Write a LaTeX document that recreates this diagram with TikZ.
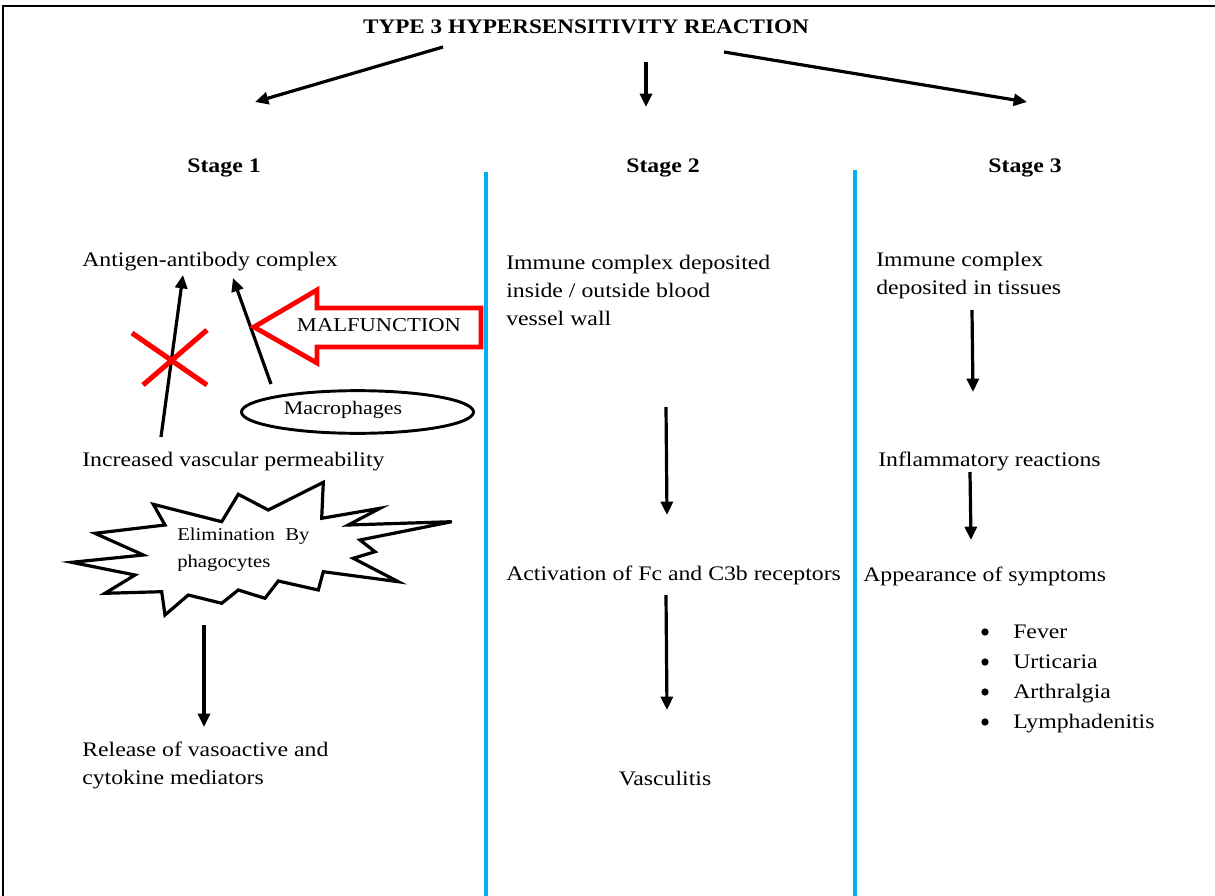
\documentclass[tikz,border=0pt]{standalone}
\usepackage{fontspec}
\setmainfont{Liberation Serif}[FakeStretch=1.15]
\newfontfamily\titlefont{Liberation Serif}[FakeStretch=1.12]
\usetikzlibrary{arrows.meta,shapes.geometric}
\definecolor{sky}{RGB}{0,176,240}
\definecolor{mred}{RGB}{255,0,0}
\begin{document}
\begin{tikzpicture}[x=0.75pt,y=-0.75pt,
  txt/.style={anchor=west,inner sep=0pt,align=left,font=\fontsize{15.5}{21}\selectfont},
  btxt/.style={anchor=base west,inner sep=0pt,font=\fontsize{15.5}{21}\selectfont},
  ctxt/.style={inner sep=0pt,align=center,font=\fontsize{15.5}{21}\selectfont},
  stagelbl/.style={inner sep=0pt,font=\fontsize{15.5}{21}\selectfont\bfseries},
  arr/.style={line width=2.4pt,-{Triangle[length=10pt,width=9pt]}},
  divider/.style={sky,line width=2.6pt},
  redx/.style={mred,line width=3.8pt},
  outline/.style={line width=2.4pt,line join=miter},
  bulletdot/.style={circle,fill=black,inner sep=0pt,minimum size=5.5pt}
]
\useasboundingbox (0,0) rectangle (1215,896);
% frame
\draw[line width=1.5pt] (3,896) -- (3,6) -- (1215,6);

% title
\node[inner sep=0pt,font=\titlefont\fontsize{15.5}{17}\selectfont\bfseries] (title) at (586,27) {TYPE 3 HYPERSENSITIVITY REACTION};
\coordinate (tL0) at (443,47); \coordinate (tL1) at (255,102);
\coordinate (tM0) at (646,62); \coordinate (tM1) at (646,107);
\coordinate (tR0) at (724,52); \coordinate (tR1) at (1027,102);
\draw[arr] (tL0) -- (tL1);
\draw[arr] (tM0) -- (tM1);
\draw[arr] (tR0) -- (tR1);

% stage labels
\node[stagelbl] (st1) at (224,168) {Stage 1};
\node[stagelbl] (st2) at (663,168) {Stage 2};
\node[stagelbl] (st3) at (1025,168) {Stage 3};

% dividers
\coordinate (d1t) at (486,172); \coordinate (d1b) at (486,896);
\coordinate (d2t) at (855,170); \coordinate (d2b) at (855,896);
\draw[divider] (d1t) -- (d1b);
\draw[divider] (d2t) -- (d2b);

% ---------- Stage 1 ----------
\node[txt] (ag) at (82,262) {Antigen-antibody complex};
\node[txt] (ivp) at (82,462) {Increased vascular permeability};

\coordinate (a1s) at (161,437); \coordinate (a1e) at (183,275);
\draw[arr] (a1s) -- (a1e);
\coordinate (x1a) at (132,333); \coordinate (x1b) at (207,385);
\coordinate (x2a) at (207,330); \coordinate (x2b) at (143,385);
\draw[redx] (x1a) -- (x1b);
\draw[redx] (x2a) -- (x2b);

% macrophages
\node[draw,ellipse,line width=2.2pt,minimum width=174pt,minimum height=32pt,inner sep=0pt] (macro) at (357.5,412) {};
\node[inner sep=0pt,font=\fontsize{14.3}{16}\selectfont] (macrotxt) at (343,410) {Macrophages};
\coordinate (a2s) at (271,384); \coordinate (a2e) at (233,278);
\draw[arr] (a2s) -- (a2e);

% malfunction block arrow
\draw[mred,line width=3.6pt,line join=miter,fill=white]
  (254,327) -- (317,290) -- (317,308) -- (481,308) -- (481,347) -- (317,347) -- (317,363) -- cycle;
\node[inner sep=0pt,font=\fontsize{14.7}{16}\selectfont] (malf) at (379,325) {MALFUNCTION};

% starburst
\draw[outline,fill=white]
  (71.7,562.3) -- (143.3,555) -- (95,533.3) -- (165,525) -- (153.3,504.3) -- (221.7,521.7)
  -- (238.3,494.3) -- (268.3,510) -- (323.3,482.3) -- (321.7,518.3) -- (380,508.3)
  -- (348.3,525) -- (451.7,521.7) -- (360,540) -- (375,551.7) -- (353.3,558.3)
  -- (398.3,581.7) -- (323.3,571.7) -- (318.3,590) -- (278.3,581) -- (265,598.3)
  -- (238.3,590) -- (221.7,603.3) -- (188.3,595) -- (165,615) -- (161.7,591.7)
  -- (105,593.3) -- (135,575) -- cycle;
\node[anchor=west,inner sep=0pt,align=left,font=\fontsize{13.5}{20}\selectfont] (elim) at (177,550) {Elimination\ \ By\\phagocytes};

\coordinate (a3s) at (204,625); \coordinate (a3e) at (204,727);
\draw[arr] (a3s) -- (a3e);
\node[txt] (rel) at (82,765) {Release of vasoactive and\\cytokine mediators};

% ---------- Stage 2 ----------
\node[txt] (s2a) at (506,290) {Immune complex deposited\\inside / outside blood\\vessel wall};
\coordinate (b1s) at (666,407); \coordinate (b1e) at (667,515);
\draw[arr] (b1s) -- (b1e);
\node[txt] (act) at (506,575) {Activation of Fc and C3b receptors};
\coordinate (b2s) at (666,595); \coordinate (b2e) at (667,710);
\draw[arr] (b2s) -- (b2e);
\node[ctxt] (vas) at (665,778) {Vasculitis};

% ---------- Stage 3 ----------
\node[txt] (s3a) at (876,276) {Immune complex\\deposited in tissues};
\coordinate (c1s) at (972,310); \coordinate (c1e) at (973,392);
\draw[arr] (c1s) -- (c1e);
\node[txt] (inf) at (878,461) {Inflammatory reactions};
\coordinate (c2s) at (970,472); \coordinate (c2e) at (971,540);
\draw[arr] (c2s) -- (c2e);
\node[txt] (app) at (863,576) {Appearance of symptoms};

\node[bulletdot] (bu1) at (985,632) {};
\node[bulletdot] (bu2) at (985,662) {};
\node[bulletdot] (bu3) at (985,692) {};
\node[bulletdot] (bu4) at (985,722) {};
\node[btxt] (sy1) at (1013,638) {Fever};
\node[btxt] (sy2) at (1013,668) {Urticaria};
\node[btxt] (sy3) at (1013,698) {Arthralgia};
\node[btxt] (sy4) at (1013,728) {Lymphadenitis};
\end{tikzpicture}
\end{document}
